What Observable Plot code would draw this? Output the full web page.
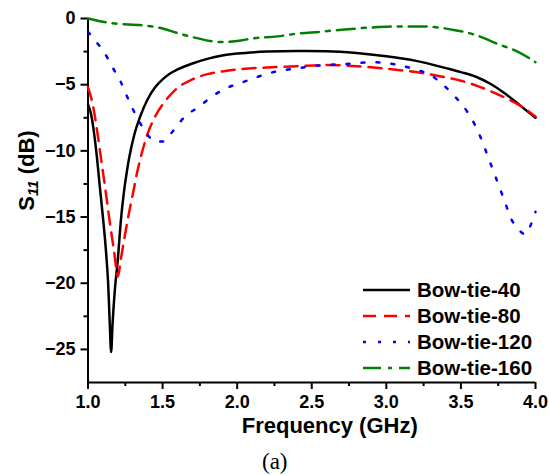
<!DOCTYPE html>
<html><head><meta charset="utf-8">
<script src="https://cdn.jsdelivr.net/npm/d3@7"></script>
<script src="https://cdn.jsdelivr.net/npm/@observablehq/plot@0.6"></script>
<style>body{margin:0;background:#fff} svg{display:block}</style>
</head><body><div id="chart"></div>
<script>
const seriesNames = ["Bow-tie-40", "Bow-tie-80", "Bow-tie-120", "Bow-tie-160"];
const seriesColors = ["#000000", "#ff0000", "#0000ff", "#008000"];
const seriesDash = [null, "13,8", "3,12", "18,7,4,7"];

const freq40 = [1.0,1.02,1.04,1.06,1.08,1.10,1.12,1.135,1.145,1.155,1.165,1.18,1.20,1.22,1.24,1.26,1.28,1.31,1.35,1.40,1.45,1.50,1.55,1.60,1.70,1.80,1.90,2.00,2.20,2.40,2.60,2.80,3.00,3.20,3.40,3.50,3.60,3.70,3.80,3.90,4.00];
const s11_40 = [-6.5,-7.2,-8.6,-10.5,-12.8,-15.0,-17.5,-20.0,-22.8,-25.2,-23.0,-20.5,-18.2,-15.3,-13.2,-11.6,-10.3,-8.8,-7.4,-6.1,-5.2,-4.6,-4.15,-3.85,-3.4,-3.05,-2.8,-2.65,-2.5,-2.45,-2.47,-2.6,-2.85,-3.2,-3.75,-4.05,-4.4,-4.95,-5.7,-6.6,-7.5];

const freq80 = [1.0,1.03,1.06,1.09,1.12,1.15,1.175,1.20,1.22,1.25,1.28,1.30,1.33,1.36,1.40,1.45,1.50,1.55,1.60,1.70,1.80,1.90,2.00,2.20,2.40,2.60,2.80,3.00,3.20,3.40,3.50,3.60,3.70,3.80,3.90,4.00];
const s11_80 = [-5.2,-6.4,-8.4,-10.8,-13.2,-15.7,-17.6,-19.5,-18.2,-16.2,-14.4,-13.3,-11.6,-10.2,-8.7,-7.4,-6.5,-5.8,-5.25,-4.6,-4.2,-4.0,-3.85,-3.7,-3.6,-3.52,-3.6,-3.8,-4.05,-4.45,-4.7,-5.05,-5.5,-6.0,-6.6,-7.4];

const freq120 = [1.0,1.05,1.10,1.16,1.22,1.27,1.33,1.40,1.45,1.50,1.57,1.65,1.74,1.83,1.92,2.04,2.14,2.26,2.38,2.51,2.63,2.78,2.91,3.05,3.18,3.30,3.38,3.46,3.54,3.59,3.64,3.69,3.74,3.79,3.84,3.90,3.93,3.96,4.00];
const s11_120 = [-1.0,-1.7,-2.4,-3.6,-4.8,-6.1,-7.5,-8.8,-9.3,-9.3,-8.5,-7.4,-6.7,-5.9,-5.3,-4.8,-4.4,-4.0,-3.8,-3.6,-3.5,-3.4,-3.3,-3.45,-3.8,-4.3,-5.0,-5.9,-7.0,-7.95,-9.2,-10.7,-12.2,-13.7,-15.2,-16.1,-16.3,-15.8,-14.6];

const freq160 = [1.0,1.1,1.2,1.35,1.5,1.6,1.7,1.82,1.91,2.0,2.11,2.27,2.4,2.56,2.7,2.9,3.1,3.25,3.36,3.47,3.6,3.74,3.88,4.0];
const s11_160 = [0.0,-0.25,-0.4,-0.5,-0.75,-1.1,-1.4,-1.7,-1.78,-1.7,-1.5,-1.35,-1.15,-1.0,-0.85,-0.68,-0.6,-0.6,-0.7,-0.9,-1.25,-1.9,-2.5,-3.3];

const xTicks = [1.0, 1.5, 2.0, 2.5, 3.0, 3.5, 4.0];
const xMinorTicks = [1.25, 1.75, 2.25, 2.75, 3.25, 3.75];
const yTicks = [0, -5, -10, -15, -20, -25];
const yMinorTicks = [-2.5, -7.5, -12.5, -17.5, -22.5];
const xDomain = [1, 4];
const yDomain = [-27.5, 0];

const freqs = [freq40, freq80, freq120, freq160];
const vals = [s11_40, s11_80, s11_120, s11_160];
const rows = [];
freqs.forEach((f, i) => f.forEach((x, j) => rows.push({series: seriesNames[i], f: x, s: vals[i][j]})));

const lineMarks = seriesNames.map((name, i) => Plot.line(rows.filter(d => d.series === name), {
  x: "f", y: "s", stroke: seriesColors[i], strokeWidth: 2.5,
  strokeDasharray: seriesDash[i] || undefined, curve: "monotone-x"
}));

const chart = Plot.plot({
  width: 549, height: 475,
  marginTop: 18, marginRight: 14, marginBottom: 93, marginLeft: 87.5,
  style: {fontFamily: "'Liberation Sans', Arial, sans-serif", fontSize: "18px", fontWeight: "bold", color: "#000", background: "#fff"},
  x: {domain: xDomain},
  y: {domain: yDomain},
  marks: [
    Plot.axisX(xMinorTicks, {tickSize: 4, strokeWidth: 2, tickFormat: () => "", label: null}),
    Plot.axisX(xTicks, {tickSize: 7, tickPadding: 6, strokeWidth: 2, tickFormat: d3.format(".1f"), fontSize: 18, fontWeight: "bold", label: null}),
    Plot.axisY(yMinorTicks, {tickSize: 4, strokeWidth: 2, tickFormat: () => "", label: null}),
    Plot.axisY(yTicks, {tickSize: 7, tickPadding: 5.5, strokeWidth: 2, tickFormat: d3.format("d"), fontSize: 18, fontWeight: "bold", label: null}),
    Plot.ruleY([yDomain[0]], {strokeWidth: 2}),
    Plot.ruleX([xDomain[0]], {y1: yDomain[0], y2: yDomain[1], strokeWidth: 2}),
    ...lineMarks,
    Plot.text(["Frequency (GHz)"], {text: d => d, frameAnchor: "bottom", textAnchor: "middle", lineAnchor: "middle", dx: 18, dy: 43, fontSize: 22, fontWeight: "bold"}),
    Plot.text(["(a)"], {text: d => d, frameAnchor: "bottom", textAnchor: "middle", lineAnchor: "middle", dx: -37, dy: 79, fontSize: 23, fontWeight: "normal", fontFamily: "'Liberation Serif', 'DejaVu Serif', serif"}),
    Plot.text(["S11 (dB)"], {text: d => d, frameAnchor: "left", textAnchor: "middle", lineAnchor: "middle", dx: -61.5, dy: -30, rotate: -90, fontSize: 22, fontWeight: "bold"})
  ]
});

// subscript for S11
d3.select(chart).selectAll("text").each(function() {
  if (this.textContent === "S11 (dB)") {
    const t = d3.select(this);
    t.text(null);
    t.append("tspan").text("S");
    t.append("tspan").attr("font-size", 15).attr("font-style", "italic").attr("dy", 4).text("11");
    t.append("tspan").attr("dy", -4).text(" (dB)");
  }
});

// legend
const lg = d3.select(chart).append("g").attr("font-size", 20.5).attr("font-weight", "bold").attr("text-anchor", "start");
seriesNames.forEach((name, i) => {
  const y = 290 + i * 26;
  lg.append("line").attr("x1", 363).attr("x2", 410).attr("y1", y).attr("y2", y)
    .attr("stroke", seriesColors[i]).attr("stroke-width", 2.5)
    .attr("stroke-dasharray", seriesDash[i]);
  lg.append("text").attr("x", 417).attr("y", y).attr("dy", "0.35em").attr("fill", "#000").text(name);
});

document.getElementById("chart").appendChild(chart);
</script>
</body></html>
